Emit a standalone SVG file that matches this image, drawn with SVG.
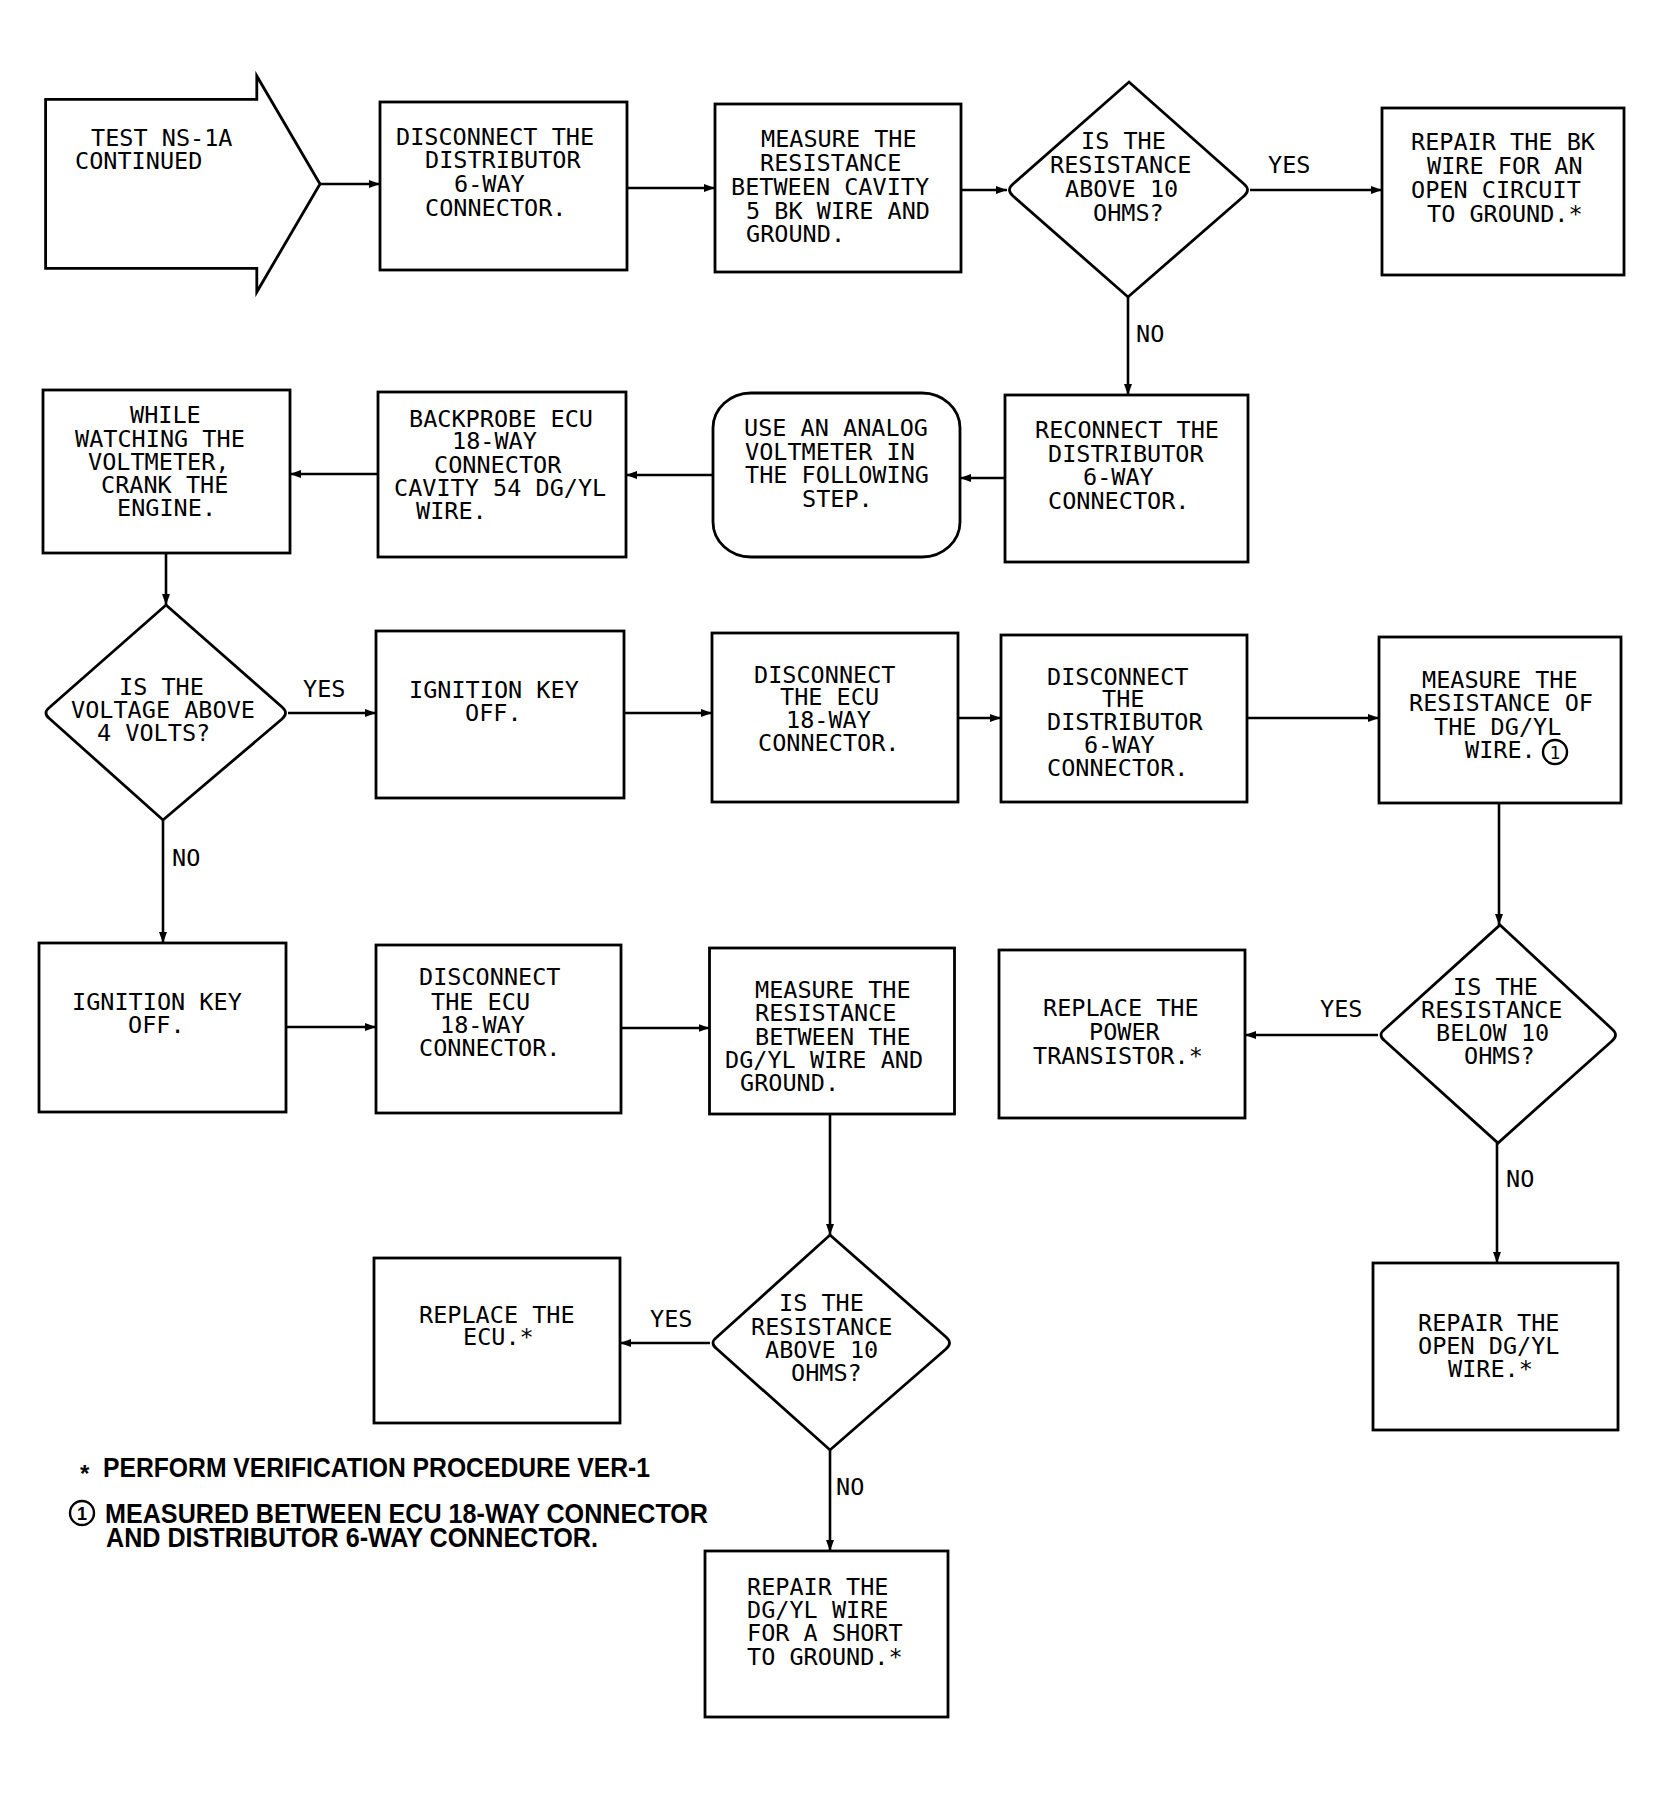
<svg xmlns="http://www.w3.org/2000/svg" width="1663" height="1796" viewBox="0 0 1663 1796">
<style>
.b{fill:#fff;stroke:#000;stroke-width:2.8}
.c{fill:none;stroke:#000;stroke-width:2.6}
.t{font-family:"DejaVu Sans Mono","Liberation Mono",monospace;font-size:23.5px;fill:#000}
.f{font-family:"Liberation Sans",Arial,sans-serif;font-weight:bold;font-size:27px;fill:#000}
</style>
<defs>
<marker id="ah" markerUnits="userSpaceOnUse" markerWidth="11" markerHeight="8" refX="11" refY="4" orient="auto">
<path d="M0,0 L11,4 L0,8 z" fill="#000"/>
</marker>
</defs>
<rect width="1663" height="1796" fill="#fff"/>

<g id="connectors">
<line class="c" x1="320" y1="184" x2="380" y2="184" marker-end="url(#ah)"/>
<line class="c" x1="627" y1="188" x2="715" y2="188" marker-end="url(#ah)"/>
<line class="c" x1="961" y1="190" x2="1007" y2="190" marker-end="url(#ah)"/>
<line class="c" x1="1250" y1="190" x2="1382" y2="190" marker-end="url(#ah)"/>
<text class="t" x="1268" y="173">YES</text>
<line class="c" x1="1128" y1="297" x2="1128" y2="395" marker-end="url(#ah)"/>
<text class="t" x="1136" y="342">NO</text>
<line class="c" x1="1005" y1="478" x2="960" y2="478" marker-end="url(#ah)"/>
<line class="c" x1="713" y1="475" x2="626" y2="475" marker-end="url(#ah)"/>
<line class="c" x1="378" y1="474" x2="290" y2="474" marker-end="url(#ah)"/>
<line class="c" x1="166" y1="553" x2="166" y2="605" marker-end="url(#ah)"/>
<line class="c" x1="288" y1="713" x2="376" y2="713" marker-end="url(#ah)"/>
<text class="t" x="303" y="697">YES</text>
<line class="c" x1="624" y1="713" x2="712" y2="713" marker-end="url(#ah)"/>
<line class="c" x1="958" y1="718" x2="1001" y2="718" marker-end="url(#ah)"/>
<line class="c" x1="1247" y1="718" x2="1379" y2="718" marker-end="url(#ah)"/>
<line class="c" x1="1499" y1="803" x2="1499" y2="925" marker-end="url(#ah)"/>
<line class="c" x1="163" y1="820" x2="163" y2="943" marker-end="url(#ah)"/>
<text class="t" x="172" y="866">NO</text>
<line class="c" x1="286" y1="1027" x2="376" y2="1027" marker-end="url(#ah)"/>
<line class="c" x1="621" y1="1028" x2="709.5" y2="1028" marker-end="url(#ah)"/>
<line class="c" x1="1378" y1="1035" x2="1245" y2="1035" marker-end="url(#ah)"/>
<text class="t" x="1320" y="1017">YES</text>
<line class="c" x1="1497" y1="1143" x2="1497" y2="1263" marker-end="url(#ah)"/>
<text class="t" x="1506" y="1187">NO</text>
<line class="c" x1="830" y1="1114" x2="830" y2="1235" marker-end="url(#ah)"/>
<line class="c" x1="710" y1="1343" x2="620" y2="1343" marker-end="url(#ah)"/>
<text class="t" x="650" y="1327">YES</text>
<line class="c" x1="830" y1="1450" x2="830" y2="1551" marker-end="url(#ah)"/>
<text class="t" x="836" y="1495">NO</text>
</g>

<g id="start">
<polygon class="b" points="45.6,99.3 256.8,99.3 256.8,76 320,184 256.8,292 256.8,268.3 45.6,268.3"/>
<text class="t"><tspan x="91" y="146">TEST NS-1A</tspan><tspan x="75" y="169">CONTINUED</tspan></text>
</g>

<g id="n-disconnect-dist">
<rect class="b" x="380" y="102" width="247" height="168"/>
<text class="t"><tspan x="396" y="145">DISCONNECT THE</tspan><tspan x="425" y="168">DISTRIBUTOR</tspan><tspan x="454" y="192">6-WAY</tspan><tspan x="425" y="216">CONNECTOR.</tspan></text>
</g>

<g id="n-measure-bk">
<rect class="b" x="715" y="104" width="246" height="168"/>
<text class="t"><tspan x="761" y="147">MEASURE THE</tspan><tspan x="760" y="171">RESISTANCE</tspan><tspan x="731" y="195">BETWEEN CAVITY</tspan><tspan x="746" y="219">5 BK WIRE AND</tspan><tspan x="746" y="242">GROUND.</tspan></text>
</g>

<g id="d-above10-1">
<path class="b" d="M1129,82 L1244,184 Q1251,190 1244,196 L1128,297 L1013,196 Q1006,190 1013,184 Z"/>
<text class="t"><tspan x="1081" y="149">IS THE</tspan><tspan x="1050" y="173">RESISTANCE</tspan><tspan x="1065" y="197">ABOVE 10</tspan><tspan x="1093" y="221">OHMS?</tspan></text>
</g>

<g id="n-repair-bk">
<rect class="b" x="1382" y="108" width="242" height="167"/>
<text class="t"><tspan x="1411" y="150">REPAIR THE BK</tspan><tspan x="1427" y="174">WIRE FOR AN</tspan><tspan x="1411" y="198">OPEN CIRCUIT</tspan><tspan x="1427" y="222">TO GROUND.*</tspan></text>
</g>

<g id="n-reconnect">
<rect class="b" x="1005" y="395" width="243" height="167"/>
<text class="t"><tspan x="1035" y="438">RECONNECT THE</tspan><tspan x="1048" y="462">DISTRIBUTOR</tspan><tspan x="1083" y="485">6-WAY</tspan><tspan x="1048" y="509">CONNECTOR.</tspan></text>
</g>

<g id="n-analog">
<rect class="b" x="713" y="393" width="247" height="164" rx="38" ry="35"/>
<text class="t"><tspan x="744" y="436">USE AN ANALOG</tspan><tspan x="745" y="460">VOLTMETER IN</tspan><tspan x="745" y="483">THE FOLLOWING</tspan><tspan x="802" y="507">STEP.</tspan></text>
</g>

<g id="n-backprobe">
<rect class="b" x="378" y="392" width="248" height="165"/>
<text class="t"><tspan x="409" y="427">BACKPROBE ECU</tspan><tspan x="452" y="449">18-WAY</tspan><tspan x="434" y="473">CONNECTOR</tspan><tspan x="394" y="496">CAVITY 54 DG/YL</tspan><tspan x="416" y="519">WIRE.</tspan></text>
</g>

<g id="n-while">
<rect class="b" x="43" y="390" width="247" height="163"/>
<text class="t"><tspan x="130" y="423">WHILE</tspan><tspan x="75" y="447">WATCHING THE</tspan><tspan x="88" y="470">VOLTMETER,</tspan><tspan x="101" y="493">CRANK THE</tspan><tspan x="117" y="516">ENGINE.</tspan></text>
</g>

<g id="d-voltage">
<path class="b" d="M166,605 L282,707 Q289,713 282,719 L163,820 L50,719 Q42,713 50,707 Z"/>
<text class="t"><tspan x="119" y="695">IS THE</tspan><tspan x="71" y="718">VOLTAGE ABOVE</tspan><tspan x="97" y="741">4 VOLTS?</tspan></text>
</g>

<g id="n-ign1">
<rect class="b" x="376" y="631" width="248" height="167"/>
<text class="t"><tspan x="409" y="698">IGNITION KEY</tspan><tspan x="465" y="721">OFF.</tspan></text>
</g>

<g id="n-disc-ecu1">
<rect class="b" x="712" y="633" width="246" height="169"/>
<text class="t"><tspan x="754" y="683">DISCONNECT</tspan><tspan x="780" y="705">THE ECU</tspan><tspan x="786" y="728">18-WAY</tspan><tspan x="758" y="751">CONNECTOR.</tspan></text>
</g>

<g id="n-disc-dist2">
<rect class="b" x="1001" y="635" width="246" height="167"/>
<text class="t"><tspan x="1047" y="685">DISCONNECT</tspan><tspan x="1102" y="707">THE</tspan><tspan x="1047" y="730">DISTRIBUTOR</tspan><tspan x="1084" y="753">6-WAY</tspan><tspan x="1047" y="776">CONNECTOR.</tspan></text>
</g>

<g id="n-measure-of">
<rect class="b" x="1379" y="637" width="242" height="166"/>
<text class="t"><tspan x="1422" y="688">MEASURE THE</tspan><tspan x="1409" y="711">RESISTANCE OF</tspan><tspan x="1434" y="735">THE DG/YL</tspan><tspan x="1465" y="758">WIRE.</tspan></text>
<circle cx="1555" cy="752" r="12" fill="none" stroke="#000" stroke-width="2.4"/>
<text class="t" x="1555" y="759" text-anchor="middle" style="font-size:18px">1</text>
</g>

<g id="n-ign2">
<rect class="b" x="39" y="943" width="247" height="169"/>
<text class="t"><tspan x="72" y="1010">IGNITION KEY</tspan><tspan x="128" y="1033">OFF.</tspan></text>
</g>

<g id="n-disc-ecu2">
<rect class="b" x="376" y="945" width="245" height="168"/>
<text class="t"><tspan x="419" y="985">DISCONNECT</tspan><tspan x="431" y="1010">THE ECU</tspan><tspan x="440" y="1033">18-WAY</tspan><tspan x="419" y="1056">CONNECTOR.</tspan></text>
</g>

<g id="n-measure2">
<rect class="b" x="709.5" y="948" width="245" height="166"/>
<text class="t"><tspan x="755" y="998">MEASURE THE</tspan><tspan x="755" y="1021">RESISTANCE</tspan><tspan x="755" y="1045">BETWEEN THE</tspan><tspan x="725" y="1068">DG/YL WIRE AND</tspan><tspan x="740" y="1091">GROUND.</tspan></text>
</g>

<g id="d-below10">
<path class="b" d="M1500,925 L1612,1029 Q1619,1035 1612,1041 L1498,1143 L1385,1041 Q1377,1035 1385,1029 Z"/>
<text class="t"><tspan x="1453" y="995">IS THE</tspan><tspan x="1421" y="1018">RESISTANCE</tspan><tspan x="1436" y="1041">BELOW 10</tspan><tspan x="1464" y="1064">OHMS?</tspan></text>
</g>

<g id="n-power">
<rect class="b" x="999" y="950" width="246" height="168"/>
<text class="t"><tspan x="1043" y="1016">REPLACE THE</tspan><tspan x="1089" y="1040">POWER</tspan><tspan x="1033" y="1064">TRANSISTOR.*</tspan></text>
</g>

<g id="n-repair-open">
<rect class="b" x="1373" y="1263" width="245" height="167"/>
<text class="t"><tspan x="1418" y="1331">REPAIR THE</tspan><tspan x="1418" y="1354">OPEN DG/YL</tspan><tspan x="1448" y="1377">WIRE.*</tspan></text>
</g>

<g id="d-above10-2">
<path class="b" d="M830,1235 L946,1337 Q953,1343 946,1349 L830,1450 L717,1349 Q709,1343 717,1337 Z"/>
<text class="t"><tspan x="779" y="1311">IS THE</tspan><tspan x="751" y="1335">RESISTANCE</tspan><tspan x="765" y="1358">ABOVE 10</tspan><tspan x="791" y="1381">OHMS?</tspan></text>
</g>

<g id="n-replace-ecu">
<rect class="b" x="374" y="1258" width="246" height="165"/>
<text class="t"><tspan x="419" y="1323">REPLACE THE</tspan><tspan x="463" y="1345">ECU.*</tspan></text>
</g>

<g id="n-repair-short">
<rect class="b" x="705" y="1551" width="243" height="166"/>
<text class="t"><tspan x="747" y="1595">REPAIR THE</tspan><tspan x="747" y="1618">DG/YL WIRE</tspan><tspan x="747" y="1641">FOR A SHORT</tspan><tspan x="747" y="1665">TO GROUND.*</tspan></text>
</g>

<g id="notes">
<text class="f" x="80" y="1482" style="font-size:24px">*</text>
<text class="f" x="103" y="1477" textLength="547" lengthAdjust="spacingAndGlyphs">PERFORM VERIFICATION PROCEDURE VER-1</text>
<circle cx="82" cy="1513" r="12" fill="none" stroke="#000" stroke-width="2.4"/>
<text class="f" x="82" y="1520" text-anchor="middle" style="font-size:18px">1</text>
<text class="f" textLength="603" lengthAdjust="spacingAndGlyphs" x="105" y="1523">MEASURED BETWEEN ECU 18-WAY CONNECTOR</text>
<text class="f" textLength="492" lengthAdjust="spacingAndGlyphs" x="106" y="1547">AND DISTRIBUTOR 6-WAY CONNECTOR.</text>
</g>
</svg>
